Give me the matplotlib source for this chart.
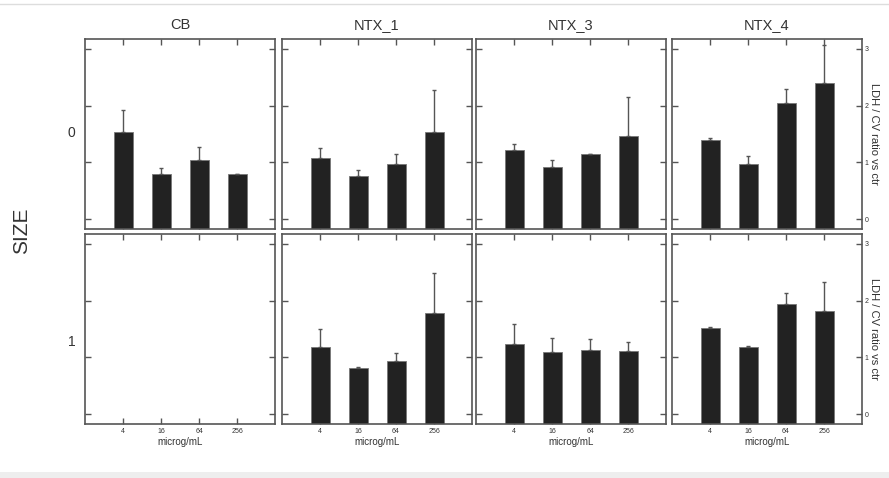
# LDH / CV ratio by concentration, faceted by compound (columns) and SIZE (rows)
import matplotlib
matplotlib.use("Agg")
import matplotlib.pyplot as plt
from matplotlib.patches import Rectangle
from matplotlib.lines import Line2D

plt.rcParams["font.family"] = ["Liberation Sans", "DejaVu Sans"]

# data
compounds = ["CB", "NTX_1", "NTX_3", "NTX_4"]
sizes = ["0", "1"]
doses = ["4", "16", "64", "256"]
x_pos = [1, 2, 3, 4]

# SIZE = 0
cb_0 = [1.53, 0.79, 1.04, 0.79]
cb_0_err = [0.40, 0.12, 0.24, 0.0]
ntx1_0 = [1.07, 0.77, 0.97, 1.54]
ntx1_0_err = [0.19, 0.09, 0.17, 0.73]
ntx3_0 = [1.21, 0.92, 1.14, 1.46]
ntx3_0_err = [0.12, 0.12, 0.0, 0.69]
ntx4_0 = [1.40, 0.97, 2.04, 2.39]
ntx4_0_err = [0.03, 0.14, 0.25, 0.67]

# SIZE = 1 (no CB data)
cb_1 = []
cb_1_err = []
ntx1_1 = [1.18, 0.82, 0.94, 1.78]
ntx1_1_err = [0.32, 0.02, 0.14, 0.71]
ntx3_1 = [1.24, 1.10, 1.13, 1.12]
ntx3_1_err = [0.34, 0.24, 0.19, 0.15]
ntx4_1 = [1.51, 1.18, 1.94, 1.82]
ntx4_1_err = [0.03, 0.02, 0.19, 0.51]

rows = [
    [(cb_0, cb_0_err), (ntx1_0, ntx1_0_err), (ntx3_0, ntx3_0_err), (ntx4_0, ntx4_0_err)],
    [(cb_1, cb_1_err), (ntx1_1, ntx1_1_err), (ntx3_1, ntx3_1_err), (ntx4_1, ntx4_1_err)],
]

W, H = 889, 478
fig = plt.figure(figsize=(W / 100, H / 100), dpi=100)

lefts = [85, 282, 476, 672]
tops = [39, 234]
pw, ph = 190, 190
y_low, y_high = -0.17, 3.17

spine_col = "#555555"
text_col = "#333333"

for r in range(2):
    for c in range(4):
        ax = fig.add_axes([lefts[c] / W, 1 - (tops[r] + ph) / H, pw / W, ph / H])
        vals, errs = rows[r][c]
        if vals:
            # bars are drawn up from the bottom of the panel, as in the original
            ax.bar(x_pos, [v - y_low for v in vals], bottom=y_low, width=0.5,
                   color="#222222", edgecolor="#777777", linewidth=0.6, zorder=2)
            ax.errorbar(x_pos, vals, yerr=[[0] * len(errs), errs], fmt="none",
                        ecolor="#555555", elinewidth=1.0, capsize=1.3,
                        capthick=1.0, zorder=3)
        ax.set_xlim(0, 5)
        ax.set_ylim(y_low, y_high)
        ax.set_xticks(x_pos)
        ax.set_yticks([0, 1, 2, 3])
        ax.tick_params(direction="in", length=4, width=1, color=spine_col,
                       top=True, right=True, labelsize=5, labelcolor=text_col)
        for s in ax.spines.values():
            s.set_color(spine_col)
            s.set_linewidth(1.2)
        ax.tick_params(axis="y", labelleft=False, labelright=(c == 3), pad=2)
        if r == 1:
            ax.set_xticklabels(doses)
            ax.tick_params(axis="x", pad=3)
            ax.set_xlabel("microg/mL", fontsize=7, color=text_col, labelpad=1)
        else:
            ax.tick_params(axis="x", labelbottom=False)
            ax.set_title(compounds[c], fontsize=10.5, color=text_col, pad=7)
        if c == 3:
            ax.text(1.065, 0.5, "LDH / CV ratio vs ctr", transform=ax.transAxes,
                    rotation=270, ha="center", va="center", fontsize=8,
                    color=text_col)
        if c == 0:
            ax.text(-0.05, 0.505 if r == 0 else 0.43, sizes[r], transform=ax.transAxes,
                    ha="right", va="center", fontsize=10, color=text_col)

fig.text(22 / W, 1 - 231 / H, "SIZE", rotation=90, ha="center", va="center",
         fontsize=15, color=text_col)

# light frame lines from the original page
fig.add_artist(Line2D([0, 1], [1 - 4 / H, 1 - 4 / H], transform=fig.transFigure,
                      color="#dddddd", linewidth=1))
fig.add_artist(Rectangle((0, 0), 1, 6 / H, transform=fig.transFigure,
                         color="#eeeeee", linewidth=0))

fig.savefig("out.png", dpi=100)
